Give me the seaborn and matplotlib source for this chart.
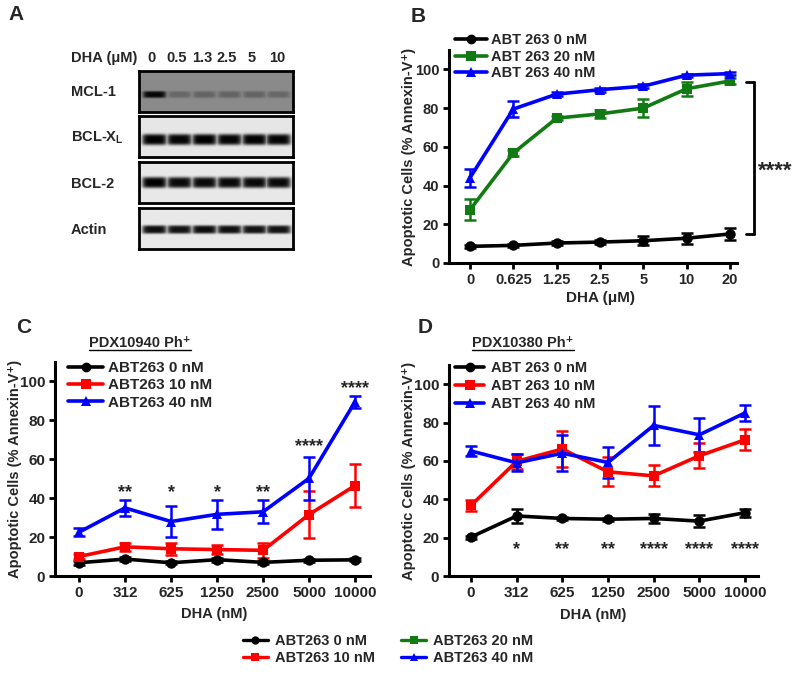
import numpy as np
import pandas as pd
import matplotlib
matplotlib.use('Agg')
import matplotlib.pyplot as plt
import seaborn as sns
from matplotlib.lines import Line2D

# ---------------- data ----------------
# Panel A (western blot band intensities, relative)
lanes_A = ['0', '0.5', '1.3', '2.5', '5', '10']
blot_labels = ['MCL-1', r'BCL-X$_\mathbf{L}$', 'BCL-2', 'Actin']
band_mcl1 = [0.95, 0.25, 0.28, 0.28, 0.28, 0.25]
band_bclxl = [1.00, 0.98, 1.00, 0.98, 1.00, 0.98]
band_bcl2 = [1.00, 0.96, 0.96, 0.96, 0.96, 0.96]
band_actin = [0.94, 0.92, 0.95, 0.93, 0.92, 0.92]

# Panel B
dose_B = ['0', '0.625', '1.25', '2.5', '5', '10', '20']
B_abt0 = [8.6, 9.1, 10.3, 10.8, 11.5, 12.8, 15.0]
B_abt0_err = [0.8, 0.8, 1.0, 1.0, 2.2, 2.8, 3.0]
B_abt20 = [27.5, 56.8, 74.8, 77.0, 80.0, 90.0, 94.0]
B_abt20_err = [5.5, 1.5, 1.2, 2.0, 4.5, 3.5, 1.5]
B_abt40 = [44.0, 79.5, 87.2, 89.5, 91.3, 97.0, 97.8]
B_abt40_err = [4.5, 4.0, 1.0, 1.0, 1.0, 0.8, 0.8]

# Panel C
dose_nM = ['0', '312', '625', '1250', '2500', '5000', '10000']
C_abt0 = [6.8, 8.7, 6.8, 8.4, 7.0, 8.1, 8.3]
C_abt0_err = [1.0, 1.0, 0.8, 1.0, 0.8, 0.8, 0.8]
C_abt10 = [10.0, 15.0, 14.0, 13.6, 13.2, 31.6, 46.5]
C_abt10_err = [1.5, 2.0, 3.0, 2.5, 4.0, 12.3, 11.0]
C_abt40 = [22.5, 35.0, 28.0, 31.7, 33.0, 50.2, 89.5]
C_abt40_err = [2.0, 4.0, 8.0, 7.5, 6.0, 11.0, 3.0]
C_stars = ['', '**', '*', '*', '**', '****', '****']
C_star_y = [0, 46, 46, 46, 46, 70, 99.5]

# Panel D
D_abt0 = [20.3, 31.3, 30.0, 29.6, 30.0, 28.6, 33.0]
D_abt0_err = [0.8, 3.8, 1.0, 0.8, 2.5, 3.0, 2.0]
D_abt10 = [36.8, 59.8, 66.2, 54.3, 52.2, 62.7, 71.0]
D_abt10_err = [3.0, 4.0, 9.5, 7.5, 5.5, 6.5, 5.5]
D_abt40 = [65.2, 59.0, 64.0, 59.2, 78.5, 73.6, 85.0]
D_abt40_err = [2.5, 4.5, 9.5, 8.0, 10.0, 9.0, 4.0]
D_stars = ['', '*', '**', '**', '****', '****', '****']
D_star_y = [0, 17, 17, 17, 17, 17, 17]

COL = {'0': '#000000', '10': '#ff0000', '20': '#127a12', '40': '#0000ff'}
MRK = {'0': 'o', '10': 's', '20': 's', '40': '^'}

# ---------------- style ----------------
sns.set_theme(style='ticks')
plt.rcParams['font.family'] = ['Liberation Sans', 'DejaVu Sans']
plt.rcParams['font.weight'] = 'bold'
plt.rcParams['axes.labelweight'] = 'bold'
plt.rcParams['mathtext.fontset'] = 'custom'
plt.rcParams['mathtext.rm'] = 'Liberation Sans:bold'
plt.rcParams['mathtext.bf'] = 'Liberation Sans:bold'
plt.rcParams['mathtext.it'] = 'Liberation Sans:bold:italic'

W, H = 800, 674
fig = plt.figure(figsize=(W / 100, H / 100), dpi=100)


def px_axes(l, t, r, b):
    return fig.add_axes([l / W, 1 - b / H, (r - l) / W, (b - t) / H])


def ftext(x, y, s, **kw):
    return fig.text(x / W, 1 - y / H, s, **kw)


# ---------------- Panel A ----------------
ftext(8, 15, 'A', fontsize=15, fontweight='bold', va='center', ha='left')
ftext(71, 58, 'DHA (\u03bcM)', fontsize=10.5, fontweight='bold', va='center', ha='left')
lane_px = [151, 177, 202, 227, 252, 277]
for lx, lab in zip(lane_px, lanes_A):
    ftext(lx, 58, lab, fontsize=10.5, fontweight='bold', va='center', ha='center')

blots = [
    (band_mcl1, 0.54, 23, 3.4, 11.5, 71, 112),
    (band_bclxl, 0.90, 23, 5.5, 12.3, 116, 157),
    (band_bcl2, 0.91, 20, 5.5, 12.3, 162, 203),
    (band_actin, 0.91, 21, 4.2, 12.3, 208, 249),
]
centers = np.array([15, 40, 65, 90, 115, 139])
for (inten, bg, yc, hh, hw, t, b), lab in zip(blots, blot_labels):
    ax = px_axes(139, t, 293, b)
    Hh = b - t
    yy, xx = np.mgrid[0:Hh, 0:154]
    dark = np.zeros((Hh, 154))
    for c, a in zip(centers, inten):
        prof = np.exp(-((xx - c) / hw) ** 6) * np.exp(-((yy - yc) / hh) ** 4)
        dark = np.maximum(dark, a * prof)
    img = bg * (1 - dark)
    ax.imshow(img, cmap='gray', vmin=0, vmax=1, aspect='auto', interpolation='bilinear')
    ax.set_xticks([])
    ax.set_yticks([])
    for s in ax.spines.values():
        s.set_linewidth(2.0)
        s.set_color('black')
    ftext(71, (t + b) / 2 + 1, lab, fontsize=10.5, fontweight='bold', va='center', ha='left')


# ---------------- line panels ----------------
def line_panel(ax, ticks, series, xlim, tick_fs=11):
    rows = []
    for name, key, vals, errs in series:
        for i, (v, e) in enumerate(zip(vals, errs)):
            rows.append({'pos': i, 'val': v, 'err': e, 'series': name})
    df = pd.DataFrame(rows)
    names = [s[0] for s in series]
    pal = {s[0]: COL[s[1]] for s in series}
    mk = {s[0]: MRK[s[1]] for s in series}
    for name, key, vals, errs in series:
        sub = df[df.series == name]
        ax.errorbar(sub['pos'], sub['val'], yerr=sub['err'], fmt='none',
                    ecolor=COL[key], elinewidth=1.8, capsize=4, capthick=1.8,
                    zorder=2, clip_on=False)
    sns.lineplot(data=df, x='pos', y='val', hue='series', style='series',
                 hue_order=names, style_order=names, palette=pal, markers=mk,
                 dashes=False, linewidth=2.6, markersize=7.5, markeredgewidth=0,
                 errorbar=None, sort=False, legend=False, ax=ax)
    ax.set_xlim(*xlim)
    ax.set_ylim(0, 110)
    ax.set_yticks([0, 20, 40, 60, 80, 100])
    ax.set_xticks(range(len(ticks)))
    ax.set_xticklabels(ticks)
    for s in ['top', 'right']:
        ax.spines[s].set_visible(False)
    for s in ['left', 'bottom']:
        ax.spines[s].set_linewidth(2.2)
        ax.spines[s].set_color('black')
    ax.tick_params(direction='out', length=4, width=2, color='black',
                   labelsize=tick_fs, pad=3)
    for lab in ax.get_xticklabels() + ax.get_yticklabels():
        lab.set_fontweight('bold')
    ax.set_facecolor('none')


def legend_handles(series):
    return [Line2D([0], [0], color=COL[k], marker=MRK[k], lw=2.6, markersize=7,
                   markeredgewidth=0) for _, k, _, _ in series]


YLAB = 'Apoptotic Cells (% Annexin-V\u207a)'

# Panel B
axB = px_axes(449, 50, 737, 263)
serB = [('ABT 263 0 nM', '0', B_abt0, B_abt0_err),
        ('ABT 263 20 nM', '20', B_abt20, B_abt20_err),
        ('ABT 263 40 nM', '40', B_abt40, B_abt40_err)]
line_panel(axB, dose_B, serB, (-21 / 43.33, 6 + 7 / 43.33), tick_fs=10.5)
axB.set_ylabel(YLAB, fontsize=10.5, fontweight='bold', va='center')
axB.yaxis.set_label_coords(-40 / 288, 0.5)
axB.set_xlabel('DHA (\u03bcM)', fontsize=11, fontweight='bold', va='center')
axB.xaxis.set_label_coords((600 - 449) / 288, -(298 - 263) / 213)
axB.legend(legend_handles(serB), [s[0] for s in serB], loc='upper left',
           bbox_to_anchor=(455 / W, 1 - 33 / H), bbox_transform=fig.transFigure,
           frameon=False, fontsize=10.5, handlelength=2.2, handletextpad=0.25,
           labelspacing=0.18, borderpad=0, borderaxespad=0)
# significance bracket
xb = (754 - 470) / 43.33
xc = (746 - 470) / 43.33
axB.plot([xb, xb], [15, 93.5], color='black', lw=2, clip_on=False)
axB.plot([xc, xb], [15, 15], color='black', lw=2, clip_on=False)
axB.plot([xc, xb], [93.5, 93.5], color='black', lw=2, clip_on=False)
axB.annotate('****', xy=((775 - 470) / 43.33, 51.5), xytext=(0, -0.6 * 16),
             textcoords='offset points', ha='center', va='baseline',
             fontsize=16, fontweight='bold', annotation_clip=False)
ftext(411, 16, 'B', fontsize=15, fontweight='bold', va='center', ha='left')

# Panel C
axC = px_axes(55, 362, 370, 576)
serC = [('ABT263 0 nM', '0', C_abt0, C_abt0_err),
        ('ABT263 10 nM', '10', C_abt10, C_abt10_err),
        ('ABT263 40 nM', '40', C_abt40, C_abt40_err)]
line_panel(axC, dose_nM, serC, (-24 / 46, 6 + 15 / 46))
axC.set_ylabel(YLAB, fontsize=10.5, fontweight='bold', va='center')
axC.yaxis.set_label_coords(-40 / 315, 0.5)
axC.set_xlabel('DHA (nM)', fontsize=10.5, fontweight='bold', va='center')
axC.xaxis.set_label_coords((214 - 55) / 315, -(614 - 576) / 214)
axC.legend(legend_handles(serC), [s[0] for s in serC], loc='upper left',
           bbox_to_anchor=(68 / W, 1 - 361 / H), bbox_transform=fig.transFigure,
           frameon=False, fontsize=11, handlelength=2.3, handletextpad=0.3,
           labelspacing=0.22, borderpad=0, borderaxespad=0)
for i, (s, y) in enumerate(zip(C_stars, C_star_y)):
    if s:
        axC.annotate(s, xy=(i, y), xytext=(0, -0.6 * 13), textcoords='offset points',
                     ha='center', va='baseline', fontsize=13, fontweight='bold',
                     annotation_clip=False)
tC = ftext(140, 343, 'PDX10940 Ph\u207a', fontsize=10.5, fontweight='bold',
           va='center', ha='center')
ftext(16, 328, 'C', fontsize=15, fontweight='bold', va='center', ha='left')

# Panel D
axD = px_axes(449, 365, 758, 576)
serD = [('ABT 263 0 nM', '0', D_abt0, D_abt0_err),
        ('ABT 263 10 nM', '10', D_abt10, D_abt10_err),
        ('ABT 263 40 nM', '40', D_abt40, D_abt40_err)]
line_panel(axD, dose_nM, serD, (-22 / 45.67, 6 + 13 / 45.67))
axD.set_ylabel(YLAB, fontsize=10.5, fontweight='bold', va='center')
axD.yaxis.set_label_coords(-40 / 309, 0.5)
axD.set_xlabel('DHA (nM)', fontsize=10.5, fontweight='bold', va='center')
axD.xaxis.set_label_coords((593 - 449) / 309, -(615 - 576) / 211)
axD.legend(legend_handles(serD), [s[0] for s in serD], loc='upper left',
           bbox_to_anchor=(455 / W, 1 - 361 / H), bbox_transform=fig.transFigure,
           frameon=False, fontsize=10.5, handlelength=2.0, handletextpad=0.45,
           labelspacing=0.28, borderpad=0, borderaxespad=0)
for i, (s, y) in enumerate(zip(D_stars, D_star_y)):
    if s:
        axD.annotate(s, xy=(i, y), xytext=(0, -0.6 * 13), textcoords='offset points',
                     ha='center', va='baseline', fontsize=13, fontweight='bold',
                     annotation_clip=False)
tD = ftext(523, 343, 'PDX10380 Ph\u207a', fontsize=10.5, fontweight='bold',
           va='center', ha='center')
ftext(418, 328, 'D', fontsize=15, fontweight='bold', va='center', ha='left')

# Bottom shared legend
bot_keys = ['0', '10', '20', '40']
bot_labels = ['ABT263 0 nM', 'ABT263 10 nM', 'ABT263 20 nM', 'ABT263 40 nM']
bot_handles = [Line2D([0], [0], color=COL[k], marker=MRK[k], lw=2.4, markersize=6,
                      markeredgewidth=0) for k in bot_keys]
fig.legend(bot_handles, bot_labels, ncol=2, loc='upper left',
           bbox_to_anchor=(243 / W, 1 - 634 / H), frameon=False, fontsize=10.5,
           handlelength=1.7, handletextpad=0.5, labelspacing=0.22,
           columnspacing=1.8, borderpad=0, borderaxespad=0)

# underline titles
fig.canvas.draw()
inv = fig.transFigure.inverted()
for t in (tC, tD):
    bb = t.get_window_extent()
    (x0, y0), (x1, _) = inv.transform([(bb.x0, bb.y0 + 0.5), (bb.x1, bb.y0)])
    fig.add_artist(Line2D([x0, x1], [y0, y0], color='black', lw=1.0,
                          transform=fig.transFigure))

fig.savefig('out.png', dpi=100)
